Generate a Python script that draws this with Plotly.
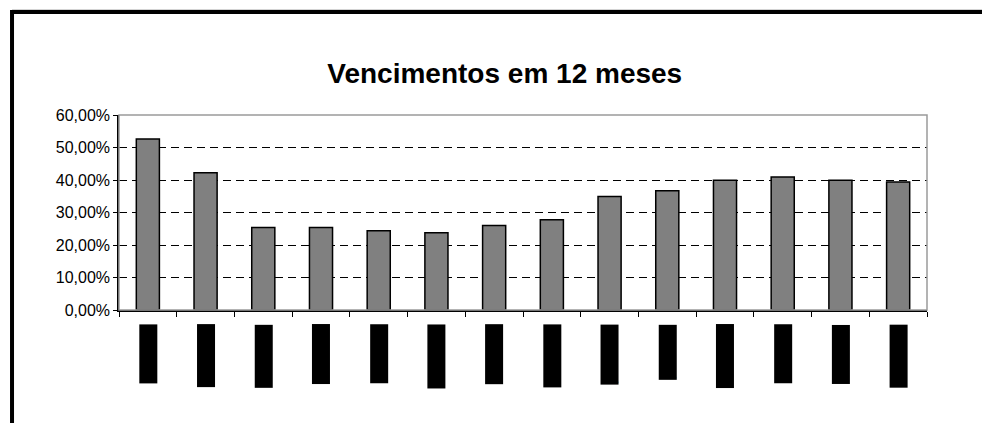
import plotly.graph_objects as go

categories = ["out/2006", "nov/2006", "dez/2006", "jan/2007", "fev/2007", "mar/2007", "abr/2007",
              "mai/2007", "jun/2007", "jul/2007", "ago/2007", "set/2007", "out/2007", "nov/2007"]
values = [52.6, 42.2, 25.4, 25.4, 24.4, 23.8, 26.0, 27.8, 34.9, 36.7, 39.9, 40.9, 39.9, 39.4]
y_ticks = [0, 10, 20, 30, 40, 50, 60]
y_tick_labels = ["0,00%", "10,00%", "20,00%", "30,00%", "40,00%", "50,00%", "60,00%"]
title_text = "Vencimentos em 12 meses"

FONT = "Liberation Sans, Arial, sans-serif"

fig = go.Figure()
fig.add_trace(go.Bar(
    x=categories, y=values,
    marker=dict(color="#808080", line=dict(color="black", width=1.5)),
    width=0.4,
))

# label boxes (rotated text shown as solid black blocks, as in the reference)
for c in categories:
    fig.add_annotation(
        x=c, xref="x", y=-0.072, yref="paper",
        text=c, textangle=-90, showarrow=False,
        xanchor="center", yanchor="top",
        font=dict(family=FONT, size=15, color="black"),
        bgcolor="black", borderpad=0,
    )

# grey plot border (top/right)
fig.add_shape(type="rect", xref="paper", yref="paper", x0=0, x1=1, y0=0, y1=1,
              line=dict(color="#9a9a9a", width=1.5), layer="above")
# outer chart frame: top and left edges
fig.add_shape(type="line", xref="paper", yref="paper", x0=-0.1324, x1=1.08, y0=1.5385, y1=1.5385,
              line=dict(color="#aaaaaa", width=1))
fig.add_shape(type="line", xref="paper", yref="paper", x0=-0.1324, x1=1.08, y0=1.5282, y1=1.5282,
              line=dict(color="black", width=4))
fig.add_shape(type="line", xref="paper", yref="paper", x0=-0.1324, x1=-0.1324, y0=-0.6, y1=1.538,
              line=dict(color="black", width=4))

fig.update_layout(
    width=982, height=423,
    margin=dict(l=119, r=55, t=115, b=113),
    paper_bgcolor="white", plot_bgcolor="white",
    showlegend=False,
    font=dict(family=FONT, color="black"),
    title=dict(text=title_text, x=0.514, xref="container", xanchor="center",
               y=1 - 73 / 423, yref="container", yanchor="middle",
               font=dict(family=FONT, size=28, color="black", weight="bold")),
    xaxis=dict(showticklabels=False, tickson="boundaries", ticks="outside", ticklen=5,
               tickcolor="black", showline=True, linecolor="black", linewidth=1.5,
               showgrid=False, range=[-0.5, len(categories) - 0.5]),
    yaxis=dict(range=[0, 60], tickvals=y_ticks, ticktext=y_tick_labels,
               ticks="outside", ticklen=4, tickcolor="black",
               showline=True, linecolor="black", linewidth=1.5,
               showgrid=True, gridcolor="black", gridwidth=1, griddash="8px,5px",
               zeroline=False, tickfont=dict(family=FONT, size=16, color="black")),
)

fig.write_html("out.html", config={"displayModeBar": False},
               post_script="document.body.style.margin='0px';document.body.style.overflow='hidden';")
